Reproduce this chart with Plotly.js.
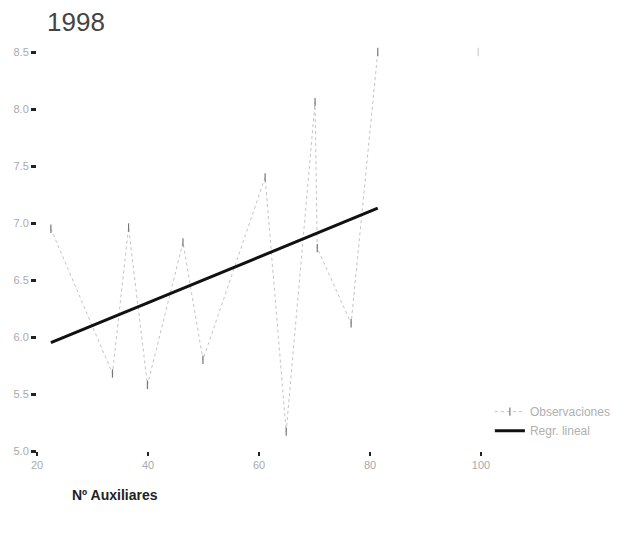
<!DOCTYPE html>
<html>
<head>
<meta charset="utf-8">
<script src="https://cdn.plot.ly/plotly-3.0.1.min.js"></script>
<style>html,body{margin:0;padding:0;background:#fff;}#chart{width:630px;height:533px;}</style>
</head>
<body>
<div id="chart"></div>
<script>
const obsX = [22.5, 33.6, 36.5, 39.9, 46.3, 49.9, 61.1, 64.9, 70.1, 70.5, 76.6, 81.4, 99.5];
const obsY = [6.95, 5.68, 6.96, 5.58, 6.83, 5.80, 7.40, 5.17, 8.06, 6.78, 6.12, 8.50, 8.50];
// Linear regression endpoints
const regX = [22.5, 81.4];
const regY = [5.95, 7.13];
// Axis ticks
const xTicks = [20, 40, 60, 80, 100];
const yTicks = [5.0, 5.5, 6.0, 6.5, 7.0, 7.5, 8.0, 8.5];
const yTickText = ['5.0', '5.5', '6.0', '6.5', '7.0', '7.5', '8.0', '8.5'];

const traces = [
  {
    x: obsX.slice(0, 12), y: obsY.slice(0, 12), type: 'scatter', mode: 'lines+markers',
    name: 'Observaciones',
    line: {color: '#c4c4c4', width: 1, dash: 'dot'},
    marker: {symbol: 'line-ns-open', size: 6, color: '#777', line: {color: '#777', width: 1.2}},
    cliponaxis: false
  },
  {
    x: obsX.slice(12), y: obsY.slice(12), type: 'scatter', mode: 'markers',
    showlegend: false,
    marker: {symbol: 'line-ns-open', size: 6, color: '#ccc', line: {color: '#ccc', width: 1.2}},
    cliponaxis: false
  },
  {
    x: regX, y: regY, type: 'scatter', mode: 'lines',
    name: 'Regr. lineal',
    line: {color: '#111', width: 3}
  }
];

const layout = {
  width: 630, height: 533,
  paper_bgcolor: '#fff', plot_bgcolor: '#fff',
  margin: {l: 37, r: 149, t: 52, b: 82},
  font: {family: 'Liberation Sans, Arial, sans-serif', color: '#999', size: 11},
  title: {text: '1998', x: 47/630, xanchor: 'left', xref: 'container',
          y: 1 - 22/533, yanchor: 'middle', yref: 'container',
          font: {size: 26, color: '#444', family: 'Liberation Sans, Arial, sans-serif'}},
  xaxis: {range: [20, 100], tickvals: xTicks, ticks: 'outside', ticklen: 4, tickwidth: 2,
          tickcolor: '#222', showgrid: false, zeroline: false, showline: false,
          tickfont: {size: 11, color: '#aaa'}},
  yaxis: {range: [5, 8.5], tickvals: yTicks, ticktext: yTickText, ticks: 'outside', ticklen: 5, tickwidth: 3,
          tickcolor: '#222', showgrid: false, zeroline: false, showline: false,
          tickfont: {size: 11, color: '#aaa'}},
  showlegend: true,
  legend: {x: 1.02, xanchor: 'left', y: 0.135, yanchor: 'top', bgcolor: 'rgba(0,0,0,0)',
           font: {size: 12, color: '#b0b0b0'}, tracegroupgap: 6, itemwidth: 30},
  annotations: [
    {text: '<b>Nº Auxiliares</b>', xref: 'paper', yref: 'paper', x: (70-37)/444, y: -44/399,
     xanchor: 'left', yanchor: 'middle', showarrow: false,
     font: {size: 14, color: '#222', family: 'Liberation Sans, Arial, sans-serif'}}
  ]
};

Plotly.newPlot('chart', traces, layout, {displayModeBar: false, staticPlot: true});
</script>
</body>
</html>
